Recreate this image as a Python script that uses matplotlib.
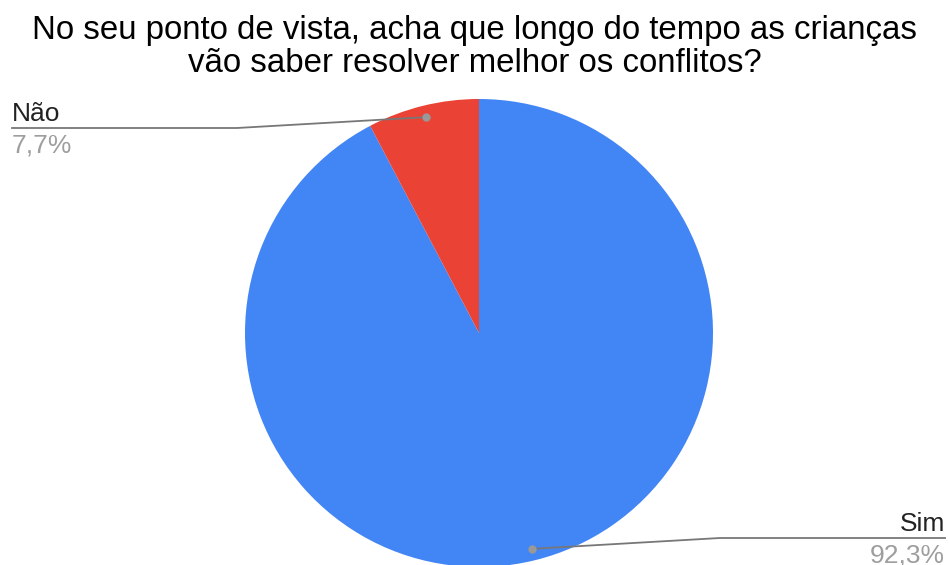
import numpy as np
import matplotlib
matplotlib.use("Agg")
import matplotlib.pyplot as plt

title = "No seu ponto de vista, acha que longo do tempo as crianças\nvão saber resolver melhor os conflitos?"
labels = ["Sim", "Não"]
values = [92.3, 7.7]
pct_labels = ["92,3%", "7,7%"]
colors = ["#4285f4", "#ea4335"]

plt.rcParams['font.family'] = ['Liberation Sans', 'DejaVu Sans']

W, H = 950, 565
fig = plt.figure(figsize=(W / 100, H / 100), dpi=100)
ax = fig.add_axes([0, 0, 1, 1])

cx, cy, R = 479, H - 333, 234
wedges, _ = ax.pie(values, colors=colors, startangle=90, counterclock=False,
                   center=(cx, cy), radius=R, frame=True,
                   wedgeprops=dict(linewidth=0))
ax.set_xlim(0, W)
ax.set_ylim(0, H)
ax.set_aspect('equal')
ax.axis('off')

fig.text(0.5, 1 - 47 / H, title, ha='center', va='center', fontsize=23.8,
         color='#000000', linespacing=1.1)

line_col = '#777777'
# label layout: (elbow x, line y, end x, ha)
layout = {
    "Não": (237, H - 128, 12, 'left'),
    "Sim": (720, H - 538, 945, 'right'),
}
for w, lab, pct in zip(wedges, labels, pct_labels):
    ang = np.deg2rad((w.theta1 + w.theta2) / 2)
    px = cx + 0.95 * R * np.cos(ang)
    py = cy + 0.95 * R * np.sin(ang)
    ex, ly, endx, ha = layout[lab]
    ax.plot([px, ex, endx], [py, ly, ly], color=line_col, lw=1.3,
            solid_joinstyle='round', zorder=5)
    ax.plot([px], [py], 'o', color='#999999', ms=5, zorder=6)
    ax.text(endx, ly + 2, lab, ha=ha, va='bottom', fontsize=19, color='#222222')
    ax.text(endx, ly - 5, pct, ha=ha, va='top', fontsize=19, color='#9e9e9e')

fig.savefig("out.png", dpi=100, facecolor='white')
